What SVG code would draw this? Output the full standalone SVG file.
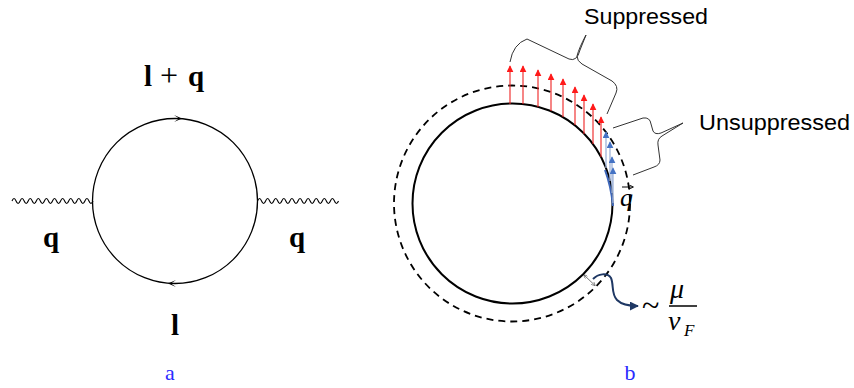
<svg xmlns="http://www.w3.org/2000/svg" width="854" height="388" viewBox="0 0 854 388">
<defs>
<style>
.bg{fill:#ffffff}
.line{fill:none;stroke:#000;stroke-width:1.3}
.wave{fill:none;stroke:#000;stroke-width:1.1}
.mathb{font-family:"Liberation Serif","DejaVu Serif",serif;font-weight:bold;font-size:29px;fill:#000}
.cap{font-family:"Liberation Serif","DejaVu Serif",serif;font-size:22px;fill:#2b2bff}
.lab{font-family:"Liberation Sans","Noto Sans",sans-serif;font-size:22.5px;fill:#000}
.mi{font-family:"Liberation Serif","DejaVu Serif",serif;font-style:italic;fill:#000}
.fs{fill:none;stroke:#000;stroke-width:2}
.fd{fill:none;stroke:#000;stroke-width:1.8;stroke-dasharray:7 5}
.brace{fill:none;stroke:#333;stroke-width:1}
.red{stroke:#ee2222;stroke-width:1.1;marker-end:url(#hr)}
.blue{stroke:#9fb3d9;stroke-width:1.3;marker-end:url(#hb)}
</style>
<marker id="hr" viewBox="0 0 10 10" refX="9" refY="5" markerWidth="7" markerHeight="7" markerUnits="userSpaceOnUse" orient="auto"><path d="M0,0 L10,5 L0,10 Z" fill="#ff1a1a"/></marker>
<marker id="hb" viewBox="0 0 10 10" refX="9" refY="5" markerWidth="7" markerHeight="7" markerUnits="userSpaceOnUse" orient="auto"><path d="M0,0 L10,5 L0,10 Z" fill="#4472c4"/></marker>
<marker id="hn" viewBox="0 0 10 10" refX="9" refY="5" markerWidth="9" markerHeight="9" markerUnits="userSpaceOnUse" orient="auto"><path d="M0,0 L10,5 L0,10 Z" fill="#1f3864"/></marker>
<marker id="hg" viewBox="0 0 10 10" refX="9" refY="5" markerWidth="4" markerHeight="4" markerUnits="userSpaceOnUse" orient="auto-start-reverse"><path d="M0,0 L10,5 L0,10" fill="none" stroke="#555" stroke-width="1.5"/></marker>
<marker id="hq" viewBox="0 0 10 10" refX="9" refY="5" markerWidth="5" markerHeight="5" markerUnits="userSpaceOnUse" orient="auto"><path d="M0,0 L10,5 L0,10" fill="none" stroke="#000" stroke-width="1.6"/></marker>
</defs>
<rect class="bg" x="0" y="0" width="854" height="388"/>

<!-- Panel a -->
<g id="loop-a">
<circle class="line" cx="175" cy="201" r="82.5"/>
<path d="M175,118.5 l-5,-3.5 l8,3.5 l-8,3.5 z" fill="#000" transform="translate(4,0)"/>
<path d="M175,283.5 l5,-3.5 l-8,3.5 l8,3.5 z" fill="#000" transform="translate(-4,0)"/>
</g>
<g id="connectors-a">
<path class="wave" d="M12,201 q2.025,-5 4.05,0 t4.05,0 t4.05,0 t4.05,0 t4.05,0 t4.05,0 t4.05,0 t4.05,0 t4.05,0 t4.05,0 t4.05,0 t4.05,0 t4.05,0 t4.05,0 t4.05,0 t4.05,0 t4.05,0 t4.05,0 t4.05,0 t4.05,0"/>
<path class="wave" d="M257.5,201 q2.025,-5 4.05,0 t4.05,0 t4.05,0 t4.05,0 t4.05,0 t4.05,0 t4.05,0 t4.05,0 t4.05,0 t4.05,0 t4.05,0 t4.05,0 t4.05,0 t4.05,0 t4.05,0 t4.05,0 t4.05,0 t4.05,0 t4.05,0 t4.05,0"/>
</g>
<g id="labels-a">
<text class="mathb" x="144" y="86">l</text>
<text class="mathb" x="160" y="86" style="font-weight:normal;font-size:32px">+</text>
<text class="mathb" x="188" y="86">q</text>
<text class="mathb" x="43" y="247">q</text>
<text class="mathb" x="289" y="247">q</text>
<text class="mathb" x="171" y="335">l</text>
<text class="cap" x="170" y="380" text-anchor="middle">a</text>
</g>

<!-- Panel b -->
<g id="fermi-surface">
<circle class="fd" cx="512" cy="203.5" r="118"/>
<circle class="fs" cx="512.5" cy="203.5" r="100"/>
</g>
<g id="suppressed-arrows">
<line class="red" x1="510" y1="104" x2="510" y2="66"/>
<line class="red" x1="523" y1="104" x2="523" y2="66"/>
<line class="red" x1="538" y1="107" x2="538" y2="70"/>
<line class="red" x1="551" y1="111" x2="551" y2="74"/>
<line class="red" x1="563" y1="117" x2="563" y2="79"/>
<line class="red" x1="575" y1="125" x2="575" y2="87"/>
<line class="red" x1="584" y1="134" x2="584" y2="95"/>
<line class="red" x1="593" y1="144" x2="593" y2="104"/>
<line class="red" x1="601" y1="157" x2="601" y2="117"/>
</g>
<g id="unsuppressed-arrows">
<path d="M605,170 Q611,186 613,206" fill="none" stroke="#3d66b8" stroke-width="2"/>
<line class="blue" x1="606" y1="168" x2="606" y2="132"/>
<line class="blue" x1="610" y1="181" x2="610" y2="142"/>
<line class="blue" x1="612" y1="193" x2="612" y2="157"/>
<line class="blue" x1="613" y1="203" x2="613" y2="168"/>
</g>
<g id="braces">
<path class="brace" d="M510,62 Q513,44 527,39 L569,59 Q577,62 580,50 L586,35 Q579,48 577,56 Q577,61 582,64 L612,81 Q619,86 616,93 L607,114"/>
<path class="brace" d="M613,128 L643,118 Q650,117 651,124 L653,131 Q655,135 661,133 L683,123 L662,136 Q657,139 658,145 L660,160 Q660,165 654,167 L633,175"/>
</g>
<g id="labels-b">
<text class="lab" x="584" y="24" textLength="124" lengthAdjust="spacingAndGlyphs">Suppressed</text>
<text class="lab" x="699" y="130" textLength="151" lengthAdjust="spacingAndGlyphs">Unsuppressed</text>
<line x1="622" y1="187" x2="633" y2="187" stroke="#000" stroke-width="1" marker-end="url(#hq)"/>
<text class="mi" x="620" y="206" font-size="26">q</text>
<text class="cap" x="630" y="380" text-anchor="middle">b</text>
</g>
<g id="width-indicator">
<line x1="584" y1="275" x2="595" y2="285.5" stroke="#555" stroke-width="0.8" marker-start="url(#hg)" marker-end="url(#hg)"/>
<path d="M593,279 C598,274 607,272 611,278 C614,285 611,294 617,300 C622,305 630,306 638,306" fill="none" stroke="#1f3864" stroke-width="2" marker-end="url(#hn)"/>
<text class="mi" x="642" y="316" font-size="32" style="font-style:normal">~</text>
<text class="mi" x="670" y="298" font-size="28">μ</text>
<line x1="669" y1="306" x2="697" y2="306" stroke="#000" stroke-width="1.5"/>
<text class="mi" x="668" y="330" font-size="28">v</text>
<text class="mi" x="684" y="336" font-size="17">F</text>
</g>
</svg>
